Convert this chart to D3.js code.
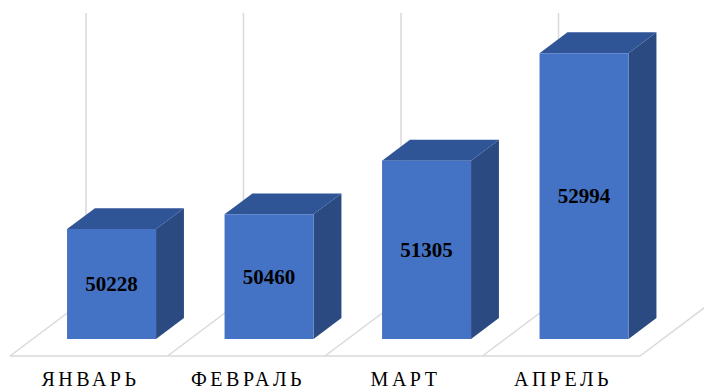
<!DOCTYPE html>
<html>
<head>
<meta charset="utf-8">
<script src="https://cdn.jsdelivr.net/npm/d3@7"></script>
<style>
  html, body { margin: 0; padding: 0; background: #fff; }
  svg { display: block; }
</style>
</head>
<body>
<svg id="chart" width="704" height="389"></svg>
<script>
const categories = ["ЯНВАРЬ", "ФЕВРАЛЬ", "МАРТ", "АПРЕЛЬ"];
const values = [50228, 50460, 51305, 52994];
const valueDomain = [48500, 53000];

const svg = d3.select("#chart");

// 3D geometry
const floorFrontY = 356;
const depthX = 76, depthY = 57;       // full floor depth offset
const barFrontD = 0.3, barBackD = 0.667;

const x = d3.scaleBand().domain(categories).range([10, 640]).paddingInner(0).paddingOuter(0);
const h = d3.scaleLinear().domain(valueDomain).range([0, 286]);
const barW = 89;

const gridColor = "#d9d9d9";
const frontColor = "#4472c4", topColor = "#2f5597", sideColor = "#2b4a82";

function P(xf, d, ht) { return [xf + depthX * d, floorFrontY - depthY * d - ht]; }

const g = svg.append("g");

const bounds = categories.map(c => x(c)).concat([x(categories[categories.length-1]) + x.bandwidth()]);
g.append("line")
  .attr("x1", bounds[0]).attr("x2", bounds[bounds.length-1])
  .attr("y1", floorFrontY).attr("y2", floorFrontY)
  .attr("stroke", gridColor).attr("stroke-width", 1.5);
bounds.forEach(b => {
  const a = P(b, 0, 0), c = P(b, 1, 0);
  g.append("line").attr("x1", a[0]).attr("y1", a[1]).attr("x2", c[0]).attr("y2", c[1])
    .attr("stroke", gridColor).attr("stroke-width", 1.5);
});
bounds.forEach(b => {
  const a = P(b, 1, 0), c = P(b, 1, h(valueDomain[1]));
  g.append("line").attr("x1", a[0]).attr("y1", a[1]).attr("x2", c[0]).attr("y2", c[1])
    .attr("stroke", gridColor).attr("stroke-width", 1.5);
});

const poly = pts => pts.map(p => p.join(",")).join(" ");
categories.forEach((c, i) => {
  const x0 = x(c) + (x.bandwidth() - barW) / 2, x1 = x0 + barW;
  const ht = h(values[i]);
  const fBL = P(x0, barFrontD, 0), fBR = P(x1, barFrontD, 0);
  const fTL = P(x0, barFrontD, ht), fTR = P(x1, barFrontD, ht);
  const bBR = P(x1, barBackD, 0), bTL = P(x0, barBackD, ht), bTR = P(x1, barBackD, ht);
  g.append("polygon").attr("points", poly([fBR, bBR, bTR, fTR])).attr("fill", sideColor);
  g.append("polygon").attr("points", poly([fTL, fTR, bTR, bTL])).attr("fill", topColor);
  g.append("polygon").attr("points", poly([fBL, fBR, fTR, fTL])).attr("fill", frontColor);
  g.append("text")
    .attr("x", (fBL[0] + fBR[0]) / 2).attr("y", (fBL[1] + fTL[1]) / 2)
    .attr("text-anchor", "middle").attr("dominant-baseline", "central")
    .attr("font-family", "'Liberation Serif', 'Times New Roman', serif")
    .attr("font-weight", "bold").attr("font-size", 21).attr("fill", "#000")
    .text(values[i]);
});

categories.forEach(c => {
  g.append("text")
    .attr("x", x(c) + x.bandwidth() / 2 + 1.75).attr("y", 386)
    .attr("text-anchor", "middle")
    .attr("font-family", "'Liberation Serif', 'Times New Roman', serif")
    .attr("font-size", 20).attr("letter-spacing", 3.5).attr("fill", "#000")
    .text(c);
});
</script>
</body>
</html>
